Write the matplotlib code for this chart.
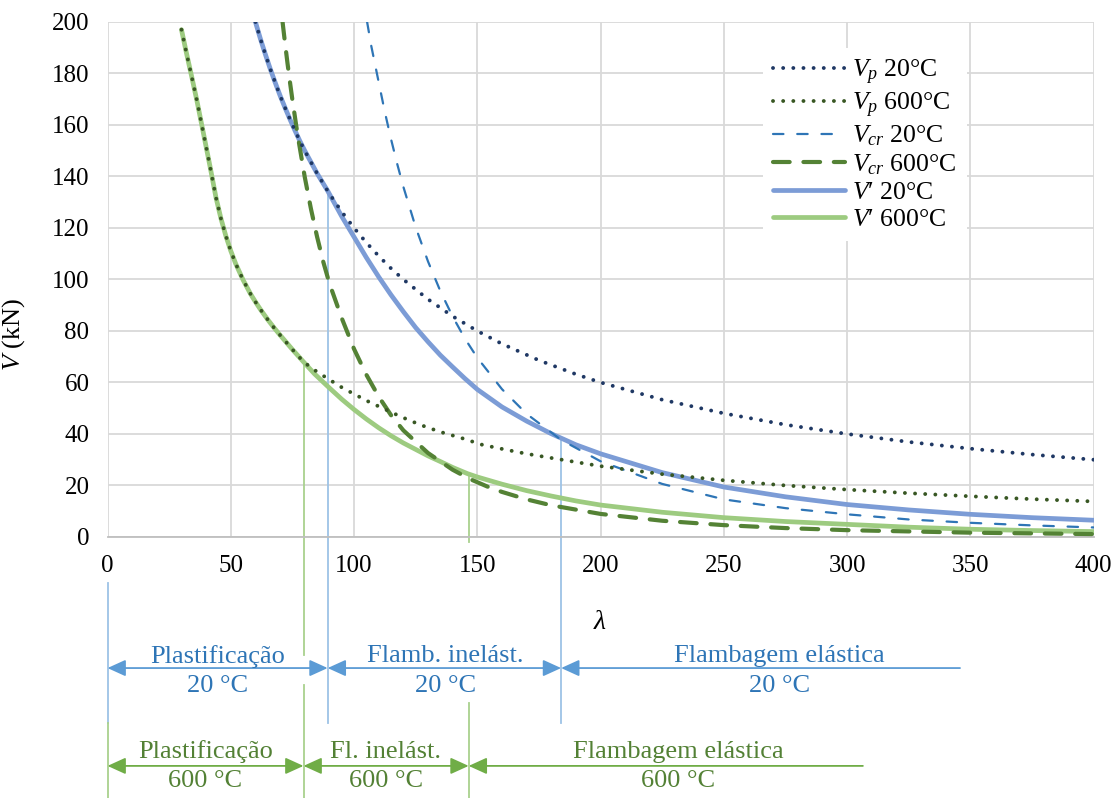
import matplotlib
matplotlib.use('Agg')
import matplotlib.pyplot as plt

plt.rcParams['font.family'] = 'Liberation Serif'
plt.rcParams['mathtext.fontset'] = 'custom'
plt.rcParams['mathtext.rm'] = 'Liberation Serif'
plt.rcParams['mathtext.it'] = 'Liberation Serif:italic'

# --- values (lambda -> V in kN) ---
lam_vp20 = [60, 62, 64, 66, 68, 70, 72, 74, 76, 78, 80, 85, 90, 95, 100, 105, 110,
            115, 120, 130, 140, 150, 160, 175, 190, 200, 225, 250, 275, 300, 325,
            350, 375, 400]
v_vp20 = [200, 193.5, 187.5, 181.8, 176.5, 171.4, 166.7, 162.2, 157.9, 153.8, 150,
          141.2, 133.3, 126.3, 120, 114.3, 109.1, 104.3, 100, 92.3, 85.7, 80, 75,
          68.6, 63.2, 60, 53.3, 48, 43.6, 40, 36.9, 34.3, 32, 30]

lam_vp600 = [30, 32, 34, 36.2, 38.9, 41.6, 44, 46, 48, 50, 52, 55, 58, 60, 62, 65,
             67.5, 70, 75, 79.5, 84, 88, 95, 100, 107, 111, 119, 127, 135, 144, 152,
             161, 170, 178, 200, 225, 250, 275, 300, 325, 350, 375, 400]
v_vp600 = [197, 188, 179.4, 169.7, 156.8, 143.8, 131.8, 123.7, 116.9, 111.1, 106.1,
           99.8, 94.4, 91.3, 88.4, 84.4, 81.3, 78.4, 72.8, 68, 64.8, 62.3, 58.1, 55.5,
           52, 50.3, 46.7, 43.5, 40.8, 38.3, 35.8, 34, 32.3, 31, 27.5, 24.4, 22, 20,
           18.4, 17, 15.8, 14.7, 13.8]

lam_vcr20 = [105.3, 107, 110, 112.5, 115, 117.5, 120, 125, 130, 135, 140, 145, 150,
             160, 170, 184, 200, 225, 250, 275, 300, 325, 350, 375, 400]
v_vcr20 = [200, 190.6, 176.6, 165, 154.5, 144.9, 136, 120.3, 107, 95.5, 85.6, 77,
           69.6, 57.4, 47.8, 37.7, 29.4, 20.6, 14.6, 11.2, 8.8, 6.8, 5.5, 4.5, 3.7]

lam_vcr600 = [71, 72, 73, 74, 75, 77, 80, 82.5, 85, 87.5, 90, 95, 100, 105, 110, 115,
              120, 130, 140, 147, 155, 160, 170, 180, 200, 225, 250, 275, 300, 350,
              400]
v_vcr600 = [200, 191.8, 184, 176.7, 169.7, 156.8, 139.8, 127.5, 116.6, 106.9, 98.5,
            85, 73, 63, 54.5, 47.3, 41.4, 32.6, 26.1, 22.5, 19.2, 17.5, 14.6, 12.3,
            8.95, 6.3, 4.6, 3.45, 2.65, 1.67, 1.12]

lam_vl20 = [60, 62, 64, 66, 68, 70, 72, 74, 76, 78, 80, 85, 89.3, 95, 100, 105, 110,
            115, 120, 125, 130, 135, 140, 145, 150, 160, 170, 180, 190, 200, 225,
            250, 275, 300, 325, 350, 375, 400]
v_vl20 = [200, 193.5, 187.5, 181.8, 176.5, 171.4, 166.7, 162.2, 157.9, 153.8, 150,
          141.2, 134.4, 124.5, 116.5, 108.5, 101, 94, 87.5, 81.3, 75.8, 70.6, 66,
          61.5, 57.3, 50.5, 45, 40.1, 35.8, 32.3, 25, 19.4, 15.6, 12.6, 10.5, 8.8,
          7.5, 6.5]

lam_vl600 = [30, 32, 34, 36.2, 38.9, 41.6, 44, 46, 48, 50, 52, 55, 58, 60, 62, 65,
             67.5, 70, 75, 79.5, 84, 89.3, 95, 100, 105, 110, 115, 120, 125, 130,
             135, 140, 146, 150, 160, 170, 180, 190, 200, 225, 250, 275, 300, 325,
             350, 375, 400]
v_vl600 = [197, 188, 179.4, 169.7, 156.8, 143.8, 131.8, 123.7, 116.9, 111.1, 106.1,
           99.8, 94.4, 91.3, 88.4, 84.4, 81.3, 78.4, 72.8, 68, 63.3, 58.5, 53.5, 49.5,
           45.8, 42.4, 39.3, 36.5, 34, 31.5, 29.3, 27, 24.6, 23.3, 20.5, 18, 15.9, 14,
           12.4, 9.6, 7.5, 6.0, 4.9, 3.8, 3.0, 2.5, 2.1]

# region limits (lambda) and the V where each limit meets the curves
bounds20 = [0, 89.3, 184]
tops20 = [134.4, 37.7]
bounds600 = [0, 79.5, 146.5]
tops600 = [68, 23.5]
elastic_end = [345.8, 306.4]

labels = ['$V_p$ 20°C', '$V_p$ 600°C', '$V_{cr}$ 20°C', '$V_{cr}$ 600°C',
          '$V$\u2032 20°C', '$V$\u2032 600°C']
regions20 = ['Plastificação', 'Flamb. inelást.', 'Flambagem elástica']
regions600 = ['Plastificação', 'Fl. inelást.', 'Flambagem elástica']

fig = plt.figure(figsize=(11.13, 7.98), dpi=100)
ax = fig.add_axes([0.0966, 0.3271, 0.886, 0.6454])

dot = (0, (0.01, 2.6))
ax.plot(lam_vp20, v_vp20, color='#1F3864', lw=2.8, ls=dot, dash_capstyle='round',
        zorder=4, label=labels[0])
ax.plot(lam_vp600, v_vp600, color='#385723', lw=2.8, ls=dot, dash_capstyle='round',
        zorder=4, label=labels[1])
ax.plot(lam_vcr20, v_vcr20, color='#2E75B6', lw=1.6, ls=(0, (4.7, 6.2)),
        dash_capstyle='round', zorder=3, label=labels[2])
ax.plot(lam_vcr600, v_vcr600, color='#548235', lw=3.0, ls=(0, (4, 3.3)),
        dash_capstyle='round', zorder=3, label=labels[3])
ax.plot(lam_vl20, v_vl20, color='#7C9CD6', lw=3.4, solid_capstyle='round',
        zorder=2, label=labels[4])
ax.plot(lam_vl600, v_vl600, color='#9DCB80', lw=3.4, solid_capstyle='round',
        zorder=2, label=labels[5])

ax.set_xlim(0, 400)
ax.set_ylim(0, 200)
ax.set_xticks(range(0, 401, 50))
ax.set_yticks(range(0, 201, 20))
ax.grid(color='#D9D9D9', lw=1.3)
ax.set_axisbelow(True)
for s in ['top', 'right', 'left']:
    ax.spines[s].set_visible(False)
ax.spines['bottom'].set_color('#BFBFBF')
ax.spines['bottom'].set_linewidth(1.3)
ax.tick_params(axis='both', length=0, labelsize=18)
ax.tick_params(axis='x', pad=13)
ax.tick_params(axis='y', pad=13)

ax.set_ylabel('$V$ (kN)', fontsize=19)
ax.yaxis.set_label_coords(-0.082, 0.394)
ax.set_xlabel('$\\lambda$', fontsize=20)
ax.xaxis.set_label_coords(0.4995, -0.142)

ax.legend(loc='upper left', bbox_to_anchor=(0.6516, 0.975), frameon=True,
          facecolor='white', edgecolor='none', framealpha=1, fancybox=False,
          fontsize=18.5, handlelength=2.8, labelspacing=0.15, borderpad=0.4,
          handletextpad=0.27)

# --- region annotations below the axis ---
blue_ln, green_ln = '#9DC3E6', '#A9D18E'
blue_ar, green_ar = '#5B9BD5', '#70AD47'
blue_tx, green_tx = '#2E75B6', '#538135'

ax.plot([0, 0], [-17.9, -72.2], color=blue_ln, lw=1.3, clip_on=False)
ax.plot([0, 0], [-72.2, -101.5], color=green_ln, lw=1.3, clip_on=False)
for lam, top in zip(bounds20[1:], tops20):
    ax.plot([lam, lam], [top, -72.2], color=blue_ln, lw=1.3, clip_on=False, zorder=1.5)
ax.plot([bounds600[1]] * 2, [tops600[0], -45.8], color=green_ln, lw=1.3,
        clip_on=False, zorder=1.5)
ax.plot([bounds600[1]] * 2, [-57.4, -101.5], color=green_ln, lw=1.3, clip_on=False)
ax.plot([bounds600[2]] * 2, [tops600[1], -1.9], color=green_ln, lw=1.3,
        clip_on=False, zorder=1.5)
ax.plot([bounds600[2]] * 2, [-64.5, -101.5], color=green_ln, lw=1.3, clip_on=False)


def span(x0, x1, y, color, both=True):
    style = ('<|-|>' if both else '<|-') + ',head_length=0.55,head_width=0.25'
    ax.annotate('', xy=(x1, y), xytext=(x0, y), xycoords='data',
                annotation_clip=False,
                arrowprops=dict(arrowstyle=style, color=color, lw=1.3,
                                shrinkA=0, shrinkB=0, mutation_scale=20))


ends20 = bounds20 + [elastic_end[0]]
ends600 = bounds600 + [elastic_end[1]]
centers20 = [44.6, 137, 272.7]
centers600 = [39.7, 112.8, 231.4]
fs = 19
for i in range(3):
    span(ends20[i], ends20[i + 1], -50.9, blue_ar, both=(i < 2))
    ax.text(centers20[i], -46.4, regions20[i], ha='center', va='center',
            color=blue_tx, fontsize=fs, clip_on=False)
    ax.text(centers20[i], -57.9, '20 °C', ha='center', va='center',
            color=blue_tx, fontsize=fs, clip_on=False)
    span(ends600[i], ends600[i + 1], -88.9, green_ar, both=(i < 2))
    ax.text(centers600[i], -83.5, regions600[i], ha='center', va='center',
            color=green_tx, fontsize=fs, clip_on=False)
    ax.text(centers600[i], -94.8, '600 °C', ha='center', va='center',
            color=green_tx, fontsize=fs, clip_on=False)

fig.savefig('out.png', dpi=100)
